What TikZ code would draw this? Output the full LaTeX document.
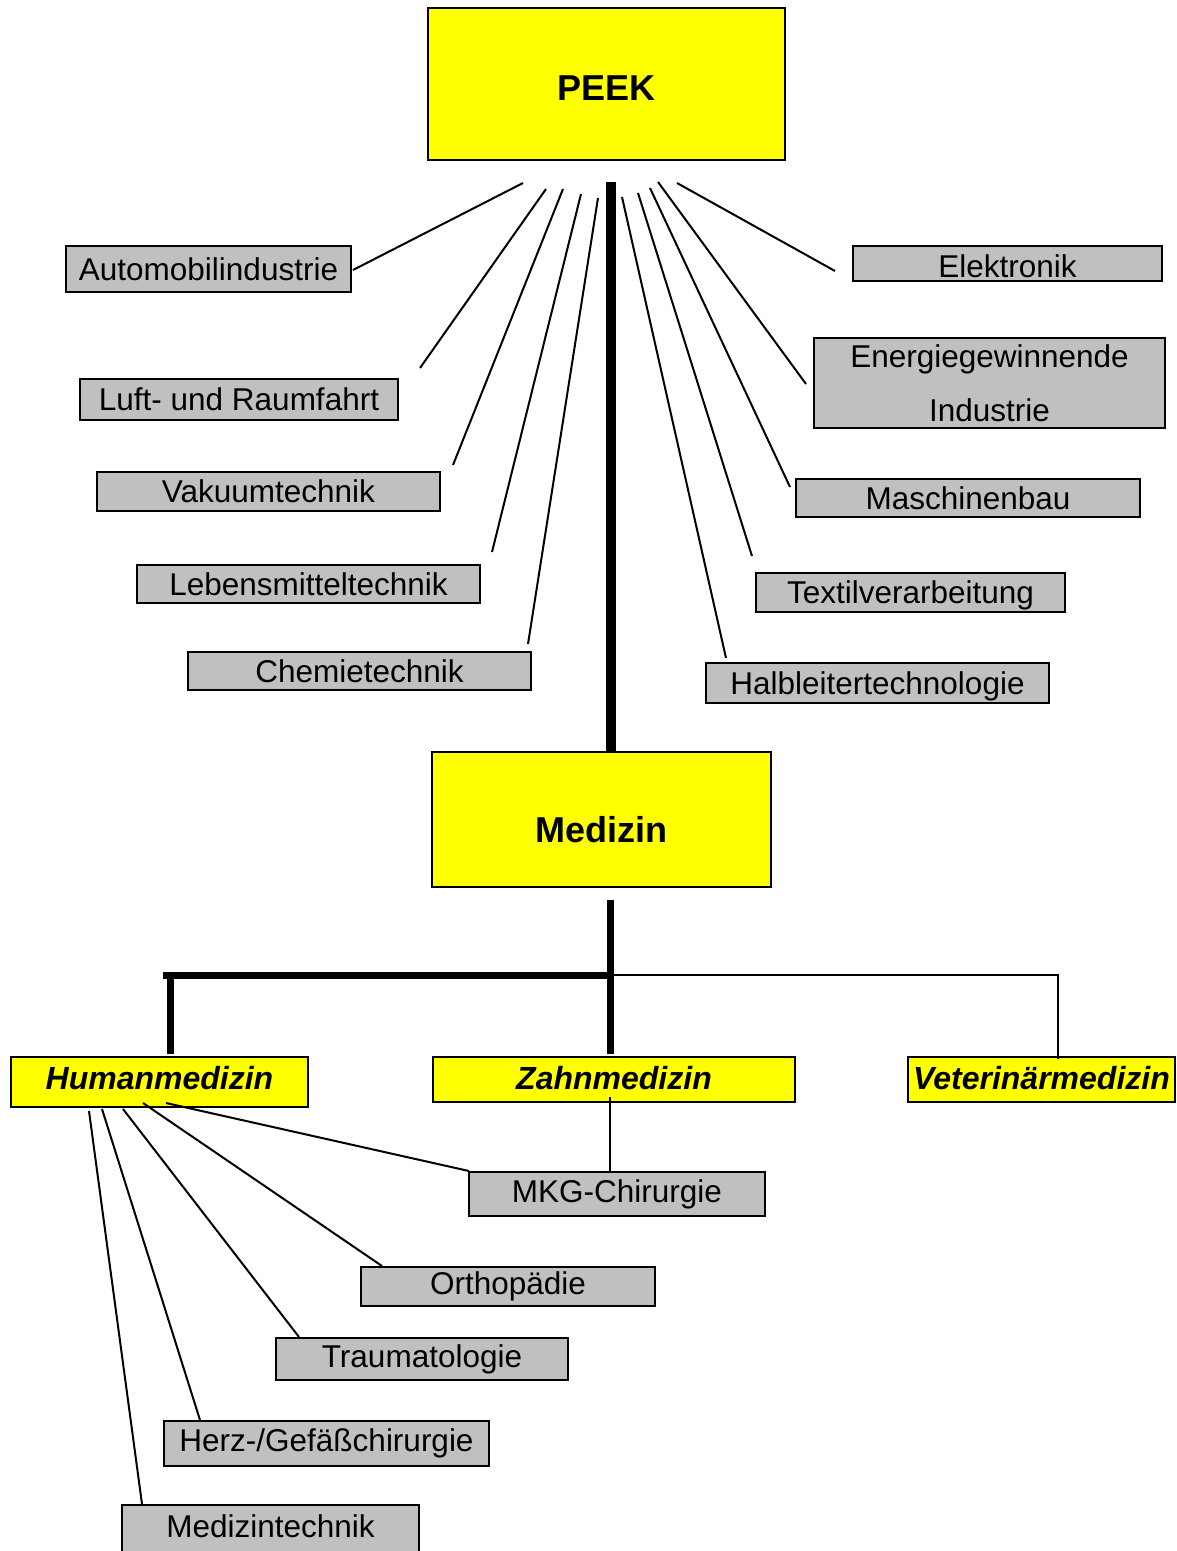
\documentclass[tikz,border=0pt]{standalone}
\usepackage{fontspec}
\setmainfont{Liberation Sans}
\usetikzlibrary{positioning}
\definecolor{peekyellow}{HTML}{FFFF00}
\definecolor{peekgray}{HTML}{C0C0C0}

\begin{document}
\begin{tikzpicture}[x=1pt, y=-1pt,
    mainbox/.style={draw, line width=2pt, fill=peekyellow, inner sep=0pt,
      font=\fontsize{36}{40}\selectfont\bfseries},
    fieldbox/.style={draw, line width=2pt, fill=peekyellow, inner sep=0pt,
      font=\fontsize{32}{36}\selectfont\bfseries\itshape, text depth=9pt},
    appbox/.style={draw, line width=2pt, fill=peekgray, inner sep=0pt,
      font=\fontsize{31.5}{54}\selectfont, align=center},
    link/.style={line width=2pt},
    trunk/.style={line width=10pt},
    branch/.style={line width=7pt}]
  \useasboundingbox (0,0) rectangle (1176,1551);
  % Material and main field
  \node[mainbox, minimum width=357pt, minimum height=152pt, text height=32pt]
    (peek) at (606.5,84) {PEEK};
  \node[mainbox, minimum width=339pt, minimum height=135pt, text height=47pt]
    (med) at (601.5,819.5) {Medizin};
  % Fields of use, left column
  \node[appbox, minimum width=285pt, minimum height=46pt] (auto) at (208.5,269) {Automobilindustrie};
  \node[appbox, minimum width=318pt, minimum height=41pt] (luft) at (239,399.5) {Luft- und Raumfahrt};
  \node[appbox, minimum width=343pt, minimum height=39pt] (vakuum) at (268.5,491.5) {Vakuumtechnik};
  \node[appbox, minimum width=343pt, minimum height=38pt] (lebens) at (308.5,584) {Lebensmitteltechnik};
  \node[appbox, minimum width=343pt, minimum height=38pt] (chemie) at (359.5,671) {Chemietechnik};
  % Fields of use, right column
  \node[appbox, minimum width=309pt, minimum height=35pt, text height=29pt] (elektro) at (1007.5,263.5) {Elektronik};
  \node[appbox, minimum width=351pt, minimum height=90pt] (energie) at (989.5,383) {Energiegewinnende\\Industrie};
  \node[appbox, minimum width=344pt, minimum height=38pt] (maschinen) at (968,498) {Maschinenbau};
  \node[appbox, minimum width=309pt, minimum height=39pt, text depth=0pt] (textil) at (910.5,592.5) {Textilverarbeitung};
  \node[appbox, minimum width=343pt, minimum height=40pt, text depth=0pt] (halbleiter) at (877.5,683) {Halbleitertechnologie};
  % Branches of medicine
  \node[fieldbox, minimum width=297pt, minimum height=50pt] (human) at (159.5,1082) {Humanmedizin};
  \node[fieldbox, minimum width=362pt, minimum height=45pt, text depth=4pt] (zahn) at (614,1079.5) {Zahnmedizin};
  \node[fieldbox, minimum width=267pt, minimum height=45pt, text depth=4pt] (vet) at (1041.5,1079.5) {Veterinärmedizin};
  % Medical applications
  \node[appbox, minimum width=296pt, minimum height=44pt] (mkg) at (617,1194) {MKG-Chirurgie};
  \node[appbox, minimum width=294pt, minimum height=39pt] (ortho) at (508,1286.5) {Orthopädie};
  \node[appbox, minimum width=292pt, minimum height=42pt] (trauma) at (422,1359) {Traumatologie};
  \node[appbox, minimum width=325pt, minimum height=45pt] (herz) at (326.5,1443.5) {Herz-/Gefäßchirurgie};
  \node[appbox, minimum width=297pt, minimum height=50pt, text depth=8pt] (medtech) at (270.5,1530) {Medizintechnik};

  % Free ends of the fan lines
  \foreach \n/\hx/\hy/\lx/\ly in {auto/523/183/353/270, luft/546/189/420/368,
      vakuum/563/189/453/465, lebens/581/194/492/552, chemie/598/198/528/644,
      halbleiter/622/197/726/658, textil/638/193/752/556, maschinen/650/188/790/487,
      energie/658/182/806/384, elektro/677/183/835/271} {
    \coordinate (\n-hi) at (\hx,\hy);
    \coordinate (\n-lo) at (\lx,\ly);
  }
  \foreach \n/\hx/\hy/\lx in {mkg/166/1103/469, ortho/143/1103/382,
      trauma/123/1109/299, herz/102/1109/200, medtech/89/1111/142} {
    \coordinate (\n-hi) at (\hx,\hy);
    \coordinate (\n-lo) at (\n.north -| \lx,0);
  }
  \coordinate (stem) at (611,182);
  \coordinate (medstem) at (610,900);
  \coordinate (split) at (610,975);
  \coordinate (humtop) at (170,1054);
  \coordinate (vetdrop) at (1058,1059);
  \coordinate (zahnfoot) at (610,1097);

  % Connectors
  \foreach \n in {auto,luft,vakuum,lebens,chemie,halbleiter,textil,maschinen,energie,elektro,
      mkg,ortho,trauma,herz,medtech}
    \draw[link] (\n-hi) -- (\n-lo);
  \draw[trunk] (stem) -- (stem |- med.north);
  \draw[branch] (medstem) -- (medstem |- 0,1054);
  \draw[branch] (split) -- (split -| 163,0);
  \draw[branch] (humtop |- split) -- (humtop);
  \draw[line width=1.6pt] (split) -| (vetdrop);
  \draw[line width=1.6pt] (zahnfoot) -- (zahnfoot |- mkg.north);
\end{tikzpicture}
\end{document}
